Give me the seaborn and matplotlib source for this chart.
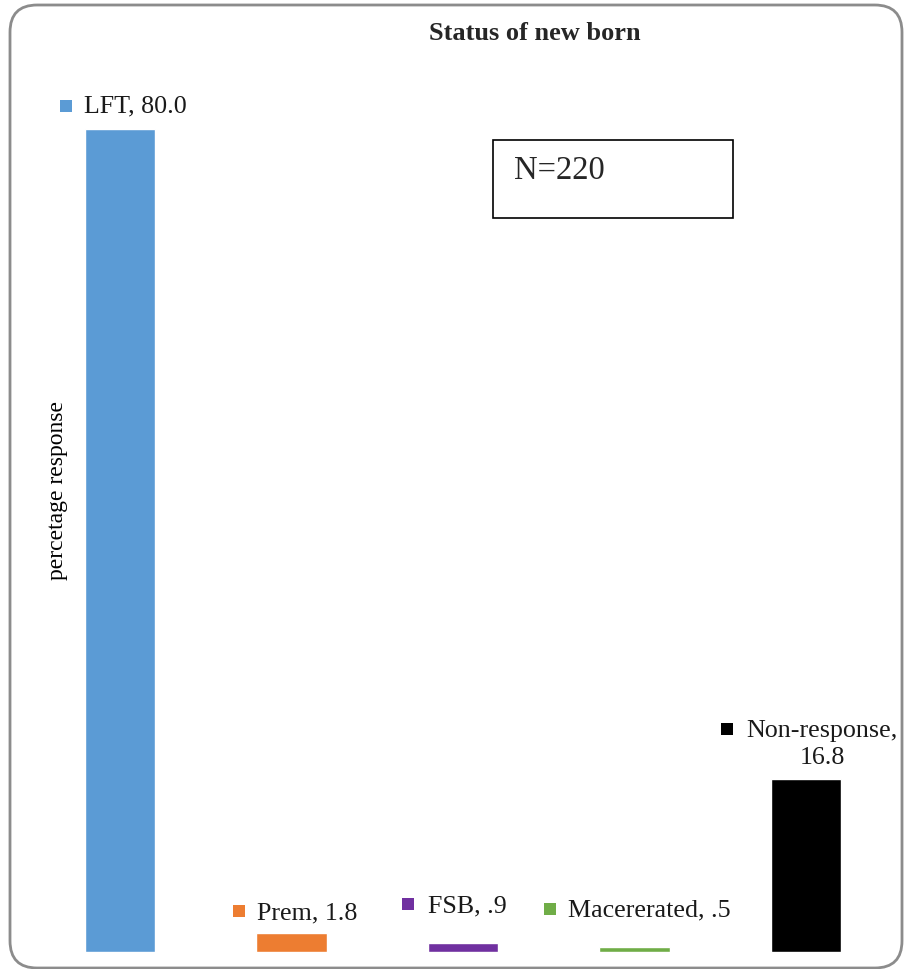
import matplotlib
matplotlib.use("Agg")
import matplotlib.pyplot as plt
import matplotlib.transforms as mtransforms
from matplotlib.patches import FancyBboxPatch, Rectangle
import seaborn as sns
import pandas as pd

# ---- data ----
categories = ["LFT", "Prem", "FSB", "Macererated", "Non-response"]
values = [80.0, 1.8, 0.9, 0.5, 16.8]
value_labels = ["80.0", "1.8", ".9", ".5", "16.8"]
colors = ["#5B9BD5", "#ED7D31", "#7030A0", "#70AD47", "#000000"]
title = "Status of new born"
ylabel = "percetage response"
note = "N=220"

# label layout (pixel offsets relative to bar top centre): text dx, dy, square dx, dy
label_text_offsets = [(15, 22), (16, 20), (4, 36), (15, 36), (16, 35)]
label_square_offsets = [(-54, 23), (-53, 22), (-55, 39), (-85, 38), (-79, 50)]
label_multiline = [False, False, False, False, True]

sns.set_theme(style="white")
plt.rcParams["font.family"] = ["Liberation Serif", "DejaVu Serif"]

W, H = 906, 969
fig = plt.figure(figsize=(W / 100, H / 100), dpi=100)
ax_left, ax_right = 34.25, 891.75
ax_bottom, ax_top = 952, 26
ax = fig.add_axes([ax_left / W, 1 - ax_bottom / H, (ax_right - ax_left) / W, (ax_bottom - ax_top) / H])

df = pd.DataFrame({"cat": categories, "val": values})
sns.barplot(data=df, x="cat", y="val", hue="cat", palette=colors, dodge=False,
            width=0.41, legend=False, ax=ax, saturation=1, order=categories, hue_order=categories)
ax.set_xlim(-0.5, 4.5)
ax.set_ylim(0, 90)
for s in ax.spines.values():
    s.set_visible(False)
ax.set_xticks([])
ax.set_yticks([])
ax.set_xlabel("")
ax.set_ylabel("")
ax.patch.set_alpha(0)

fig.text(57 / W, 1 - 490 / H, ylabel, rotation=90, ha="center", va="center",
         fontsize=17, color="black")

for i, (c, v, vl) in enumerate(zip(categories, values, value_labels)):
    tdx, tdy = label_text_offsets[i]
    sdx, sdy = label_square_offsets[i]
    sep = "\n" if label_multiline[i] else " "
    ax.annotate(f"{c},{sep}{vl}", xy=(i, v), xytext=(tdx, tdy), textcoords="offset pixels",
                ha="center", va="center", fontsize=18.7, color="#1a1a1a",
                linespacing=1.3, annotation_clip=False)
    tr = mtransforms.offset_copy(ax.transData, fig=fig, x=sdx, y=sdy, units="dots")
    ax.plot([i], [v], marker="s", ms=8.5, color=colors[i], transform=tr, clip_on=False,
            markeredgewidth=0)

fig.text(535 / W, 1 - 33 / H, title, ha="center", va="center", fontsize=19, fontweight="bold")

# N box
fig.patches.append(Rectangle((493 / W, 1 - 218 / H), 240 / W, 78 / H, transform=fig.transFigure,
                             fill=False, edgecolor="black", linewidth=1.2))
fig.text(514 / W, 1 - 171 / H, note, ha="left", va="center", fontsize=23.5)

# outer rounded frame
frame = FancyBboxPatch((10 / W, 1 - 968 / H), 892 / W, 963 / H,
                       boxstyle="round,pad=0,rounding_size=0.03", transform=fig.transFigure,
                       fill=False, edgecolor="#8c8c8c", linewidth=2, mutation_aspect=W / H)
fig.patches.append(frame)

fig.savefig("out.png", dpi=100)
